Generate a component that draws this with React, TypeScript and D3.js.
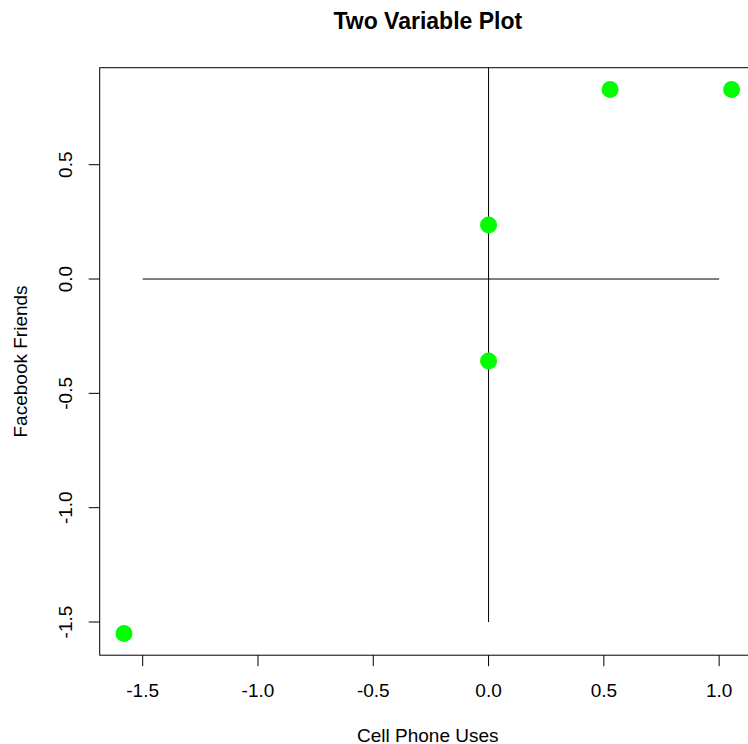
import React from "react";
import * as d3 from "d3";

const xValues = [-1.581, 0, 0, 0.527, 1.054];
const yValues = [-1.55, 0.236, -0.359, 0.829, 0.829];
const xTicks = [-1.5, -1.0, -0.5, 0.0, 0.5, 1.0];
const yTicks = [-1.5, -1.0, -0.5, 0.0, 0.5];
const hSegment = { x1: -1.5, x2: 1.0, y: 0 };
const vSegment = { x: 0, y1: -1.5, y2: 1.0 };

const W = 748;
const H = 744;
const left = 99.7;
const right = 755.9;
const top = 67.7;
const bottom = 655.2;

function ext(vals: number[]): [number, number] {
  const [a, b] = d3.extent(vals) as [number, number];
  const r = (b - a) * 0.04;
  return [a - r, b + r];
}

export default function App() {
  const x = d3.scaleLinear().domain(ext(xValues)).range([left, right]);
  const y = d3.scaleLinear().domain(ext(yValues)).range([bottom, top]);
  const font = "'Liberation Sans', Arial, Helvetica, sans-serif";
  const cx = (left + right) / 2;
  const cy = (top + bottom) / 2;
  return (
    <div style={{ position: "absolute", left: 0, top: 0 }}>
      <svg width={W} height={H} style={{ display: "block", background: "#fff" }} fontFamily={font}>
        <defs>
          <clipPath id="plotclip">
            <rect x={left} y={top} width={right - left} height={bottom - top} />
          </clipPath>
        </defs>
        <text x={cx} y={29} textAnchor="middle" fontWeight="bold" fontSize={23}>
          Two Variable Plot
        </text>
        <g clipPath="url(#plotclip)" stroke="#000" strokeWidth={1}>
          <line x1={x(hSegment.x1)} x2={x(hSegment.x2)} y1={y(hSegment.y)} y2={y(hSegment.y)} />
          <line x1={x(vSegment.x)} x2={x(vSegment.x)} y1={y(vSegment.y1)} y2={y(vSegment.y2)} />
        </g>
        <g clipPath="url(#plotclip)">
          {xValues.map((v, i) => (
            <circle key={i} cx={x(v)} cy={y(yValues[i])} r={8.5} fill="#00ff00" />
          ))}
        </g>
        <rect x={left} y={top} width={right - left} height={bottom - top} fill="none" stroke="#000" strokeWidth={1} />
        <g fontSize={19}>
          {xTicks.map((t) => (
            <g key={t}>
              <line x1={x(t)} x2={x(t)} y1={bottom} y2={bottom + 11} stroke="#000" />
              <text x={x(t)} y={697} textAnchor="middle">{t.toFixed(1)}</text>
            </g>
          ))}
          {yTicks.map((t) => (
            <g key={t}>
              <line x1={left} x2={left - 11} y1={y(t)} y2={y(t)} stroke="#000" />
              <text transform={`translate(72,${y(t)}) rotate(-90)`} textAnchor="middle">{t.toFixed(1)}</text>
            </g>
          ))}
          <text x={cx} y={742} textAnchor="middle">Cell Phone Uses</text>
          <text transform={`translate(27,${cy}) rotate(-90)`} textAnchor="middle">Facebook Friends</text>
        </g>
      </svg>
    </div>
  );
}
